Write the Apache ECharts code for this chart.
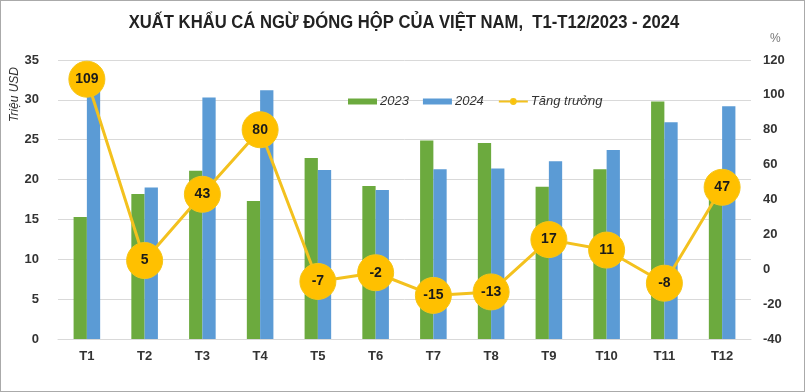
<!DOCTYPE html>
<html><head><meta charset="utf-8">
<script src="https://cdn.jsdelivr.net/npm/echarts@6/dist/echarts.min.js"></script>
<style>html,body{margin:0;padding:0;background:#fff}#c{width:805px;height:392px;box-sizing:border-box;border:1px solid #aaa}</style>
</head><body><div id="c"></div>
<script>
const categories = ['T1','T2','T3','T4','T5','T6','T7','T8','T9','T10','T11','T12'];
const v2023 = [15.3,18.2,21.1,17.3,22.7,19.2,24.9,24.6,19.1,21.3,29.8,19.9];
const v2024 = [32.1,19.0,30.3,31.2,21.2,18.7,21.3,21.4,22.3,23.7,27.2,29.2];
const growth = [109,5,43,80,-7,-2,-15,-13,17,11,-8,47];
const leftTicks = {min:0,max:35,interval:5};
const rightTicks = {min:-40,max:120,interval:20};

const chart = echarts.init(document.getElementById('c'));
const axisFont = {color:'#333',fontSize:13,fontWeight:'bold',fontFamily:'Liberation Sans, Arial, sans-serif'};
chart.setOption({
  backgroundColor:'#fff',
  animation:false,
  graphic:[
    {type:'text',x:403,y:22,scaleX:0.875,
     style:{text:'XUẤT KHẨU CÁ NGỪ ĐÓNG HỘP CỦA VIỆT NAM,  T1-T12/2023 - 2024',x:0,y:0,align:'center',verticalAlign:'middle',
       font:'bold 19px "Liberation Sans", Arial, sans-serif',fill:'#222'}},
    {type:'text',left:8,top:66,rotation:Math.PI/2,
     style:{text:'Triệu USD',font:'italic 12px "Liberation Sans", Arial, sans-serif',fill:'#333'}},
    {type:'text',left:769,top:32,
     style:{text:'%',font:'12px "Liberation Sans", Arial, sans-serif',fill:'#777'}}
  ],
  legend:{top:89,left:342,itemGap:14,itemWidth:29,itemHeight:6,
    textStyle:{fontStyle:'italic',fontSize:13,color:'#333',fontFamily:'Liberation Sans, Arial, sans-serif',padding:[0,0,0,-2]},
    data:[{name:'2023',icon:'rect'},{name:'2024',icon:'rect'},{name:'Tăng trưởng'}]},
  grid:{left:57,right:53,top:59,bottom:52},
  xAxis:{type:'category',data:categories,axisTick:{show:false},
    axisLine:{lineStyle:{color:'#d9d9d9'}},axisLabel:Object.assign({margin:11},axisFont)},
  yAxis:[
    {type:'value',min:leftTicks.min,max:leftTicks.max,interval:leftTicks.interval,
     axisLabel:Object.assign({margin:19},axisFont),
     splitLine:{lineStyle:{color:'#d9d9d9'}},axisLine:{show:false},axisTick:{show:false}},
    {type:'value',min:rightTicks.min,max:rightTicks.max,interval:rightTicks.interval,
     axisLabel:Object.assign({margin:12},axisFont),
     splitLine:{show:false},axisLine:{show:false},axisTick:{show:false}}
  ],
  series:[
    {name:'2023',type:'bar',data:v2023,itemStyle:{color:'#6CAA3E'},barGap:'0%',barCategoryGap:'54%'},
    {name:'2024',type:'bar',data:v2024,itemStyle:{color:'#5B9BD5'},barGap:'0%',barCategoryGap:'54%'},
    {name:'Tăng trưởng',type:'line',yAxisIndex:1,data:growth,symbol:'circle',symbolSize:36,z:5,
     lineStyle:{color:'#F3C11E',width:3},itemStyle:{color:'#FFC000',borderColor:'#F5C518',borderWidth:1},
     label:{show:true,position:'inside',color:'#1a1a1a',fontWeight:'bold',fontSize:14,fontFamily:'Liberation Sans, Arial, sans-serif'}}
  ]
});
</script></body></html>
